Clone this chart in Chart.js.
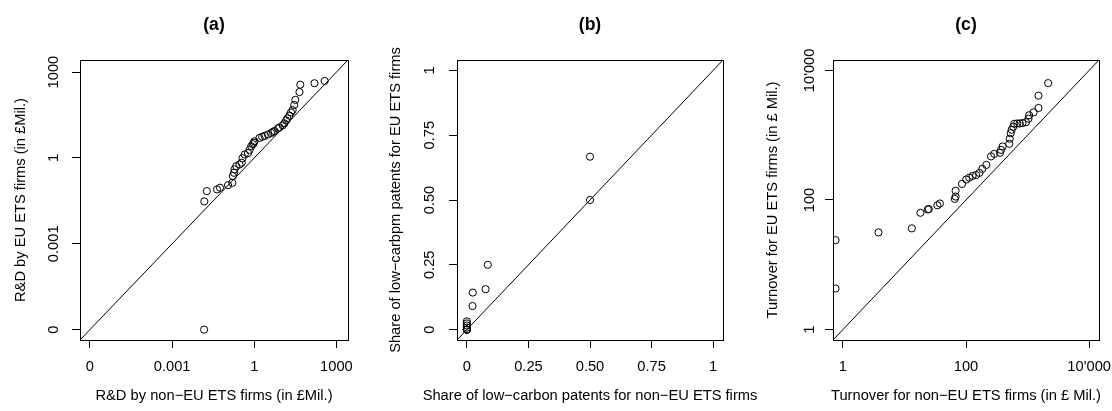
<!DOCTYPE html>
<html>
<head>
<meta charset="utf-8">
<script src="https://cdn.jsdelivr.net/npm/chart.js@4.4.0/dist/chart.umd.min.js"></script>
<style>
  html, body { margin: 0; padding: 0; background: #fff; }
  #wrap { position: relative; width: 1112px; height: 411px; }
  canvas { position: absolute; top: 0; left: 0; }
</style>
</head>
<body>
<div id="wrap">
  <canvas id="pa" width="1112" height="411"></canvas>
  <canvas id="pb" width="1112" height="411"></canvas>
  <canvas id="pc" width="1112" height="411"></canvas>
</div>
<script>
// (a) R&D, sorted quantiles (in £Mil.)
const RD_NON_EU = [0.0148, 0.0150, 0.0186, 0.0437, 0.0562, 0.110, 0.158, 0.166, 0.182, 0.191,
  0.219, 0.288, 0.347, 0.372, 0.447, 0.589, 0.676, 0.776, 0.891, 0.955,
  1.02, 1.55, 1.95, 2.40, 3.16, 4.17, 4.79, 5.50, 7.24, 8.32,
  11.0, 12.6, 14.5, 16.2, 19.1, 21.9, 25.1, 28.8, 31.6, 44.7,
  47.9, 158, 372];
const RD_EU = [0, 0.0302, 0.0692, 0.0794, 0.0912, 0.112, 0.135, 0.234, 0.302, 0.398,
  0.513, 0.589, 0.676, 0.977, 1.32, 1.48, 1.91, 2.57, 3.02, 3.39,
  3.80, 5.01, 5.50, 5.89, 6.61, 7.41, 8.13, 8.71, 10.7, 11.7,
  13.8, 16.2, 20.4, 24.0, 30.2, 38.9, 46.8, 70.8, 107, 200,
  363, 407, 490];
const RD_TICKS = [0, 0.001, 1, 1000];
const RD_TICK_LABELS = ["0", "0.001", "1", "1000"];

// (b) share of low-carbon patents
const SHARE_NON_EU = [0, 0, 0, 0, 0, 0, 0, 0, 0.023, 0.024, 0.076, 0.085, 0.5, 0.5];
const SHARE_EU = [0, 0, 0, 0, 0.008, 0.016, 0.024, 0.032, 0.091, 0.143, 0.156, 0.25, 0.5, 0.667];
const SHARE_TICKS = [0, 0.25, 0.5, 0.75, 1];
const SHARE_TICK_LABELS = ["0", "0.25", "0.50", "0.75", "1"];

// (c) turnover (in £ Mil.)
const TURN_NON_EU = [0.762, 0.762, 3.79, 13.2, 18.2, 24.0, 24.9, 34.3, 37.7, 65.8,
  67.8, 67.8, 86.1, 101, 113, 128, 146, 165, 184, 214,
  255, 288, 356, 370, 393, 504, 513, 532, 552, 585,
  607, 678, 745, 826, 938, 1033, 1059, 1254, 1503, 1503, 2158];
const TURN_EU = [4.31, 24.0, 31.6, 36.5, 63.5, 71.3, 72.6, 82.8, 88.3, 104,
  113, 139, 177, 207, 221, 235, 243, 262, 302, 348,
  471, 515, 535, 594, 670, 736, 881, 1072, 1214, 1349,
  1500, 1517, 1517, 1538, 1584, 1795, 2033, 2249, 2630, 4074, 6352];
const TURN_TICKS = [1, 100, 10000];
const TURN_TICK_LABELS = ["1", "100", "10'000"];

const FONT = "'Liberation Sans', Arial, Helvetica, sans-serif";
const TICK_SIZE = 14.7;
const MAIN_SIZE = 17.6;
const TICK_LEN = 8;
const W = 1112, H = 411, TOP = 60, BOTTOM = 340;
const X_LABEL_Y = 366.7, X_TITLE_Y = 396.3;

const measure = document.createElement("canvas").getContext("2d");
function textWidth(s) {
  measure.font = TICK_SIZE + "px " + FONT;
  return measure.measureText(s).width;
}

// R style axis range: data range plus 4% each side
function rlim(lo, hi) {
  const d = (hi - lo) * 0.04;
  return [lo - d, hi + d];
}
const lg = v => Math.log10(v + 1e-6);
const same = v => v;

// plot frame, like R's box()
const boxPlugin = {
  id: "box",
  afterDraw(chart) {
    const { ctx, chartArea: a } = chart;
    ctx.save();
    ctx.strokeStyle = "#000";
    ctx.lineWidth = 1;
    ctx.strokeRect(Math.round(a.left) + 0.5, Math.round(a.top) + 0.5,
      Math.round(a.right) - Math.round(a.left), Math.round(a.bottom) - Math.round(a.top));
    ctx.restore();
  }
};

// axis titles drawn unsqueezed (Chart.js caps them at the plot width)
const axisTitles = {
  id: "axisTitles",
  afterDraw(chart, args, opts) {
    const { ctx, chartArea: a } = chart;
    ctx.save();
    ctx.fillStyle = "#000";
    ctx.font = TICK_SIZE + "px " + FONT;
    ctx.textAlign = "center";
    ctx.textBaseline = "middle";
    ctx.fillText(opts.x, (a.left + a.right) / 2, X_TITLE_Y);
    ctx.translate(opts.yPos, (a.top + a.bottom) / 2);
    ctx.rotate(-Math.PI / 2);
    ctx.fillText(opts.y, 0, 0);
    ctx.restore();
  }
};

function panel(id, p) {
  const [min, max] = p.lim;
  const pts = p.x.map((v, i) => ({ x: p.tx(v), y: p.tx(p.y[i]) }));
  const tickVals = p.ticks.map(p.tx);
  const widest = Math.max(...p.tickLabels.map(textWidth));
  const lineH = TICK_SIZE * 1.2;
  const setTicks = scale => { scale.ticks = tickVals.map(v => ({ value: v })); };
  const grid = { drawOnChartArea: false, drawTicks: true, tickLength: TICK_LEN, color: "#000", tickColor: "#000", tickWidth: 1 };
  const tickFont = { family: FONT, size: TICK_SIZE };

  new Chart(document.getElementById(id), {
    type: "scatter",
    data: {
      datasets: [
        { data: pts, pointStyle: "circle", pointRadius: 3.6, borderWidth: 1,
          borderColor: "#000", backgroundColor: "rgba(0,0,0,0)" },
        { data: [{ x: min, y: min }, { x: max, y: max }], showLine: true, pointRadius: 0,
          borderColor: "#000", borderWidth: 1 }
      ]
    },
    options: {
      responsive: false,
      animation: false,
      events: [],
      layout: { padding: { left: p.offset, top: 0, bottom: 0, right: W - p.boxRight } },
      plugins: {
        legend: { display: false },
        tooltip: { enabled: false },
        title: {
          display: true, text: p.main, fullSize: false, color: "#000",
          font: { family: FONT, size: MAIN_SIZE, weight: "bold" },
          padding: { top: 25.5 - MAIN_SIZE * 0.6, bottom: TOP - 25.5 - MAIN_SIZE * 0.6 }
        },
        axisTitles: { x: p.xTitle, y: p.yTitle, yPos: p.yTitleX }
      },
      scales: {
        x: {
          type: "linear", position: "bottom", min, max,
          afterBuildTicks: setTicks,
          afterFit: s => { s.height = H - BOTTOM; s.paddingLeft = 0; s.paddingRight = 0; },
          grid, border: { display: false },
          ticks: { autoSkip: false, minRotation: 0, maxRotation: 0, color: "#000", font: tickFont,
            padding: X_LABEL_Y - BOTTOM - TICK_LEN - lineH / 2,
            callback: (v, i) => p.tickLabels[i] }
        },
        y: {
          type: "linear", position: "left", min, max,
          afterBuildTicks: setTicks,
          afterFit: s => { s.width = p.boxLeft - p.offset; s.paddingTop = 0; s.paddingBottom = 0; },
          grid, border: { display: false },
          ticks: { autoSkip: false, minRotation: 90, maxRotation: 90, crossAlign: "center",
            color: "#000", font: tickFont,
            padding: p.boxLeft - p.yLabelX - TICK_LEN - widest / 2,
            callback: (v, i) => p.tickLabels[i] }
        }
      }
    },
    plugins: [boxPlugin, axisTitles]
  });
}

panel("pa", {
  main: "(a)", x: RD_NON_EU, y: RD_EU, tx: lg,
  lim: rlim(-6, 3.06), ticks: RD_TICKS, tickLabels: RD_TICK_LABELS,
  xTitle: "R&D by non\u2212EU ETS firms (in £Mil.)",
  yTitle: "R&D by EU ETS firms (in £Mil.)",
  offset: 0, boxLeft: 80, boxRight: 348, yLabelX: 53.7, yTitleX: 20.7
});

panel("pb", {
  main: "(b)", x: SHARE_NON_EU, y: SHARE_EU, tx: same,
  lim: rlim(0, 1), ticks: SHARE_TICKS, tickLabels: SHARE_TICK_LABELS,
  xTitle: "Share of low\u2212carbon patents for non\u2212EU ETS firms",
  yTitle: "Share of low\u2212carbpm patents for EU ETS firms",
  offset: 371, boxLeft: 457, boxRight: 723, yLabelX: 429.5, yTitleX: 395.5
});

panel("pc", {
  main: "(c)", x: TURN_NON_EU, y: TURN_EU, tx: lg,
  lim: rlim(0, 4), ticks: TURN_TICKS, tickLabels: TURN_TICK_LABELS,
  xTitle: "Turnover for non\u2212EU ETS firms (in £ Mil.)",
  yTitle: "Turnover for EU ETS firms (in £ Mil.)",
  offset: 741, boxLeft: 833, boxRight: 1099, yLabelX: 810.3, yTitleX: 773.3
});
</script>
</body>
</html>
